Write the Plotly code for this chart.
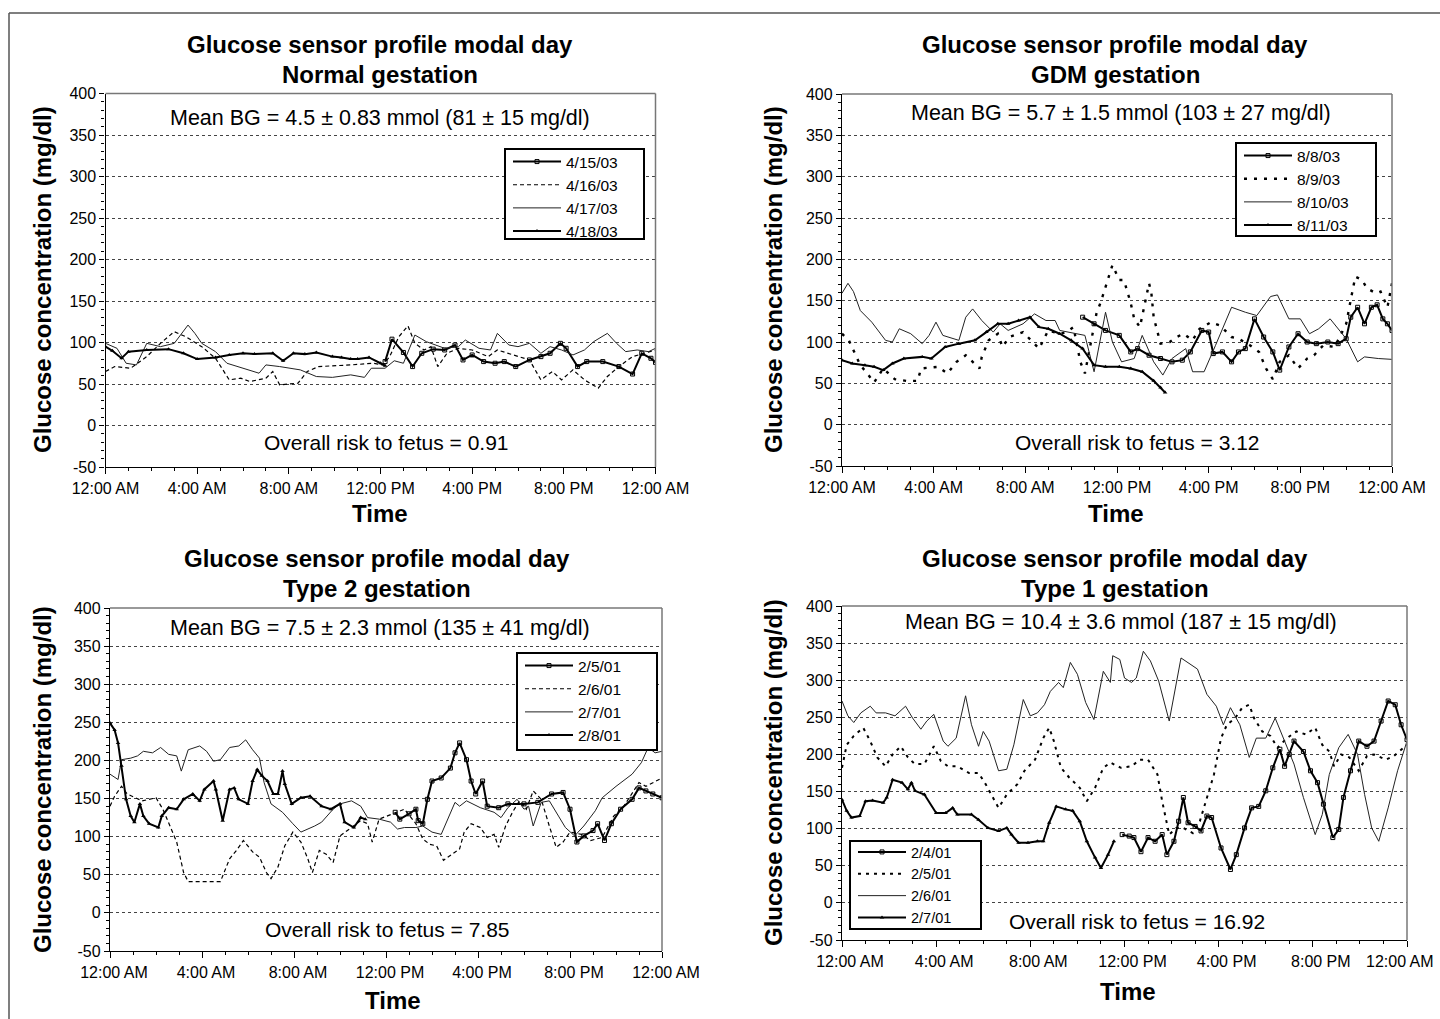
import plotly.graph_objects as go

W, H = 1440, 1019
FONT = "Liberation Sans, Arial, Helvetica, sans-serif"

TICK_HOURS = [0, 4, 8, 12, 16, 20, 24]
TICK_TEXT = ["12:00 AM", "4:00 AM", "8:00 AM", "12:00 PM", "4:00 PM", "8:00 PM", "12:00 AM"]
Y_TICKS = [-50, 0, 50, 100, 150, 200, 250, 300, 350, 400]
Y_TICK_TEXT = ["-50", "0", "50", "100", "150", "200", "250", "300", "350", "400"]

TITLES = ["Normal gestation", "GDM gestation", "Type 2 gestation", "Type 1 gestation"]
MEAN_TEXT = [
    "Mean BG = 4.5 ± 0.83 mmol (81 ± 15 mg/dl)",
    "Mean BG = 5.7 ± 1.5 mmol (103 ± 27 mg/dl)",
    "Mean BG = 7.5 ± 2.3 mmol (135 ± 41 mg/dl)",
    "Mean BG = 10.4 ± 3.6 mmol (187 ± 15 mg/dl)",
]
RISK_TEXT = [
    "Overall risk to fetus = 0.91",
    "Overall risk to fetus = 3.12",
    "Overall risk to fetus = 7.85",
    "Overall risk to fetus = 16.92",
]
DATES = [
    ["4/15/03", "4/16/03", "4/17/03", "4/18/03"],
    ["8/8/03", "8/9/03", "8/10/03", "8/11/03"],
    ["2/5/01", "2/6/01", "2/7/01", "2/8/01"],
    ["2/4/01", "2/5/01", "2/6/01", "2/7/01"],
]

# ---------------- Panel 1: Normal gestation ----------------
n1_t = [12.2, 12.5, 13.0, 13.4, 13.8, 14.3, 14.8, 15.25, 15.6, 16.0, 16.5, 17.0, 17.4, 17.9,
        18.5, 19.0, 19.4, 19.85, 20.1, 20.6, 21.0, 21.7, 22.4, 23.0, 23.4, 23.8, 24.0]
n1_v = [77, 104, 88, 71, 87, 92, 91, 97, 79, 85, 77, 75, 77, 71,
        79, 83, 87, 99, 93, 71, 77, 77, 71, 62, 87, 81, 76]
n2_t = [0, 0.4, 1.1, 1.8, 2.4, 3.0, 3.5, 4.2, 4.8, 5.4, 5.9, 6.3, 7.0, 7.3, 7.6, 8.4, 8.8, 9.3,
        10.7, 11.7, 12.1, 12.4, 12.8, 13.2, 13.5, 13.9, 14.2, 14.5, 14.9, 15.4, 16.0, 16.7, 17.1,
        17.6, 18.5, 19.0, 19.5, 19.9, 20.4, 20.9, 21.5, 21.9, 22.4, 23.0, 23.5, 24.0]
n2_v = [65, 71, 69, 83, 99, 113, 107, 95, 81, 55, 57, 53, 57, 65, 49, 51, 65, 71,
        73, 75, 73, 83, 107, 120, 99, 91, 95, 71, 87, 93, 91, 83, 91,
        87, 79, 55, 65, 55, 67, 55, 45, 59, 71, 83, 87, 91]
n3_t = [0, 0.5, 0.9, 1.35, 1.8, 2.4, 3.0, 3.6, 3.9, 4.2, 4.8, 5.3, 6.0, 6.7, 7.0, 7.6, 8.5, 9.2,
        9.9, 10.7, 11.3, 11.6, 12.2, 12.6, 13.0, 13.5, 14.0, 14.8, 15.4, 15.7, 16.3, 16.8, 17.1,
        17.6, 18.0, 18.5, 19.0, 19.4, 19.9, 20.4, 20.9, 21.3, 21.9, 22.3, 22.7, 23.2, 23.7, 24.0]
n3_v = [99, 93, 75, 73, 99, 95, 99, 121, 111, 99, 89, 75, 69, 63, 73, 71, 67, 59,
        58, 61, 58, 69, 69, 78, 75, 109, 101, 93, 95, 103, 93, 91, 111,
        97, 95, 99, 87, 95, 91, 85, 91, 101, 111, 99, 89, 91, 89, 93]
n4_t = [0, 0.3, 0.7, 1.0, 1.8, 2.75, 3.4, 4.0, 4.8, 5.4, 6.0, 6.5, 7.3, 7.75, 8.2, 8.7, 9.2,
        9.9, 10.3, 10.7, 11.0, 11.5, 12.0, 12.2]
n4_v = [95, 90, 81, 89, 91, 92, 87, 80, 82, 85, 87, 86, 87, 78, 87, 86, 88,
        83, 82, 80, 80, 82, 75, 72]

# ---------------- Panel 2: GDM gestation ----------------
g1_t = [10.5, 11.0, 11.5, 12.1, 12.6, 12.9, 13.4, 13.9, 14.4, 14.85, 15.2, 15.7, 16.0, 16.2, 16.6,
        17.0, 17.3, 17.6, 18.0, 18.4, 18.8, 19.1, 19.5, 19.9, 20.3, 20.7, 21.2, 21.65, 22.0, 22.2,
        22.5, 22.8, 23.1, 23.35, 23.6, 23.8, 24.0]
g1_v = [130, 122, 114, 108, 88, 92, 84, 80, 76, 78, 88, 114, 112, 86, 88,
        76, 88, 92, 128, 106, 88, 66, 94, 110, 100, 98, 100, 98, 104, 130,
        142, 122, 142, 145, 128, 122, 114]
g2_t = [0, 0.3, 0.5, 0.8, 1.1, 1.4, 1.8, 2.3, 2.8, 3.3, 3.45, 4.2, 4.6, 5.0, 5.4, 6.0, 6.1, 6.4,
        6.8, 7.0, 7.3, 7.9, 8.6, 9.0, 9.5, 9.8, 10.1, 10.4, 10.6, 11.1, 11.3, 11.5, 11.8, 12.1,
        12.3, 12.6, 12.75, 13.0, 13.2, 13.4, 13.5, 13.6, 13.9, 14.3, 14.6, 14.9, 15.3, 15.6, 16.1,
        16.5, 17.0, 17.3, 17.8, 18.2, 18.5, 18.8, 19.1, 19.5, 19.9, 20.3, 20.6, 21.0, 21.5, 22.0,
        22.2, 22.4, 22.7, 22.9, 23.3, 23.5, 23.8, 24.0]
g2_v = [110, 102, 90, 72, 62, 51, 68, 55, 53, 53, 68, 70, 62, 76, 84, 68, 82, 102,
        110, 94, 106, 112, 92, 114, 110, 112, 118, 76, 62, 134, 149, 167, 193, 175,
        175, 147, 128, 118, 145, 171, 159, 130, 98, 100, 106, 110, 102, 116, 124,
        120, 106, 104, 96, 88, 68, 55, 76, 84, 68, 80, 84, 96, 94, 122,
        151, 179, 175, 165, 159, 161, 142, 171]
g3_t = [0, 0.26, 0.5, 0.8, 1.3, 1.9, 2.2, 2.5, 3.0, 3.5, 3.8, 4.1, 4.4, 5.1, 5.4, 5.7, 6.1, 6.6,
        6.9, 7.25, 7.9, 8.4, 8.9, 9.3, 9.5, 10.2, 10.6, 11.0, 11.3, 11.5, 11.8, 12.2, 12.75, 13.1,
        13.6, 14.0, 14.4, 15.0, 15.3, 15.8, 16.3, 17.0, 17.6, 18.1, 18.7, 19.0, 19.5, 20.0, 20.4,
        20.8, 21.3, 22.0, 22.5, 22.8, 23.4, 24.0]
g3_v = [159, 171, 161, 138, 124, 102, 100, 116, 110, 98, 108, 124, 108, 102, 130, 140, 126, 112,
        122, 114, 122, 134, 126, 126, 114, 110, 108, 64, 106, 136, 100, 76, 80, 108,
        76, 60, 80, 92, 64, 64, 96, 142, 136, 132, 155, 157, 128, 128, 110,
        116, 128, 104, 76, 82, 80, 79]
g4_t = [0, 0.45, 1.0, 1.4, 1.8, 2.2, 2.7, 3.5, 3.9, 4.5, 5.1, 5.8, 6.3, 6.8, 7.25, 7.7, 8.2, 8.6,
        9.0, 9.5, 10.0, 10.5, 11.0, 11.5, 12.1, 12.6, 13.1, 13.6, 13.9, 14.1]
g4_v = [78, 74, 72, 70, 66, 74, 80, 82, 80, 94, 98, 102, 112, 122, 122, 126, 130, 118,
        116, 110, 102, 92, 72, 70, 70, 68, 64, 53, 45, 39]

# ---------------- Panel 3: Type 2 gestation ----------------
t1_t = [12.4, 12.6, 13.0, 13.3, 13.4, 13.6, 13.8, 14.0, 14.4, 14.8, 15.0, 15.2, 15.5, 15.7, 15.9,
        16.2, 16.4, 16.9, 17.3, 18.0, 18.6, 19.2, 19.7, 20.0, 20.3, 20.6, 21.0, 21.2, 21.5, 21.8,
        22.2, 22.7, 23.0, 23.3, 23.6, 24.0]
t1_v = [132, 123, 130, 136, 121, 117, 149, 173, 177, 190, 210, 223, 201, 173, 156,
        173, 140, 138, 143, 143, 145, 156, 158, 136, 93, 101, 108, 117, 95, 117,
        136, 149, 164, 160, 156, 151]
t2_t = [0, 0.2, 0.5, 0.75, 1.4, 2.0, 2.3, 2.7, 2.9, 3.2, 3.4, 3.9, 4.5, 4.8, 5.2, 5.5, 5.8, 6.2,
        6.5, 6.8, 7.0, 7.3, 7.6, 7.95, 8.3, 8.6, 8.8, 9.1, 9.4, 9.7, 10.0, 10.5, 10.9, 11.2, 11.4,
        11.7, 12.3, 12.8, 13.3, 13.6, 13.9, 14.2, 14.5, 14.8, 15.2, 15.4, 15.7, 16.1, 16.4, 16.7,
        16.9, 17.2, 17.5, 17.8, 18.1, 18.4, 18.75, 19.1, 19.4, 19.7, 20.0, 20.5, 20.9, 21.4, 21.9,
        22.3, 22.7, 23.0, 23.3, 23.6, 24.0]
t2_v = [140, 153, 166, 156, 147, 151, 136, 106, 93, 53, 41, 41, 41, 41, 71, 82, 95, 80,
        73, 53, 45, 60, 88, 106, 93, 71, 53, 82, 77, 66, 101, 112, 121, 117, 93,
        123, 130, 136, 117, 97, 90, 88, 69, 75, 84, 106, 117, 112, 99, 103,
        86, 114, 132, 147, 136, 160, 149, 114, 86, 93, 106, 103, 95, 99, 127,
        138, 156, 171, 166, 171, 177]
t3_t = [0, 0.35, 0.5, 0.9, 1.2, 1.45, 1.85, 2.2, 2.55, 2.9, 3.1, 3.4, 3.9, 4.2, 4.5, 4.8, 5.2, 5.6,
        5.9, 6.2, 6.5, 6.7, 7.0, 7.5, 7.95, 8.3, 8.9, 9.2, 9.7, 10.0, 10.5, 10.9, 11.2, 11.7, 12.2,
        12.5, 12.8, 13.3, 13.6, 14.0, 14.4, 14.7, 15.0, 15.2, 15.5, 16.1, 16.7, 17.0, 17.3, 17.7,
        18.0, 18.2, 18.4, 18.75, 19.1, 19.5, 19.8, 20.2, 20.6, 21.1, 21.4, 22.0, 22.7, 23.1, 23.4,
        23.7, 24.0]
t3_v = [182, 175, 201, 203, 206, 212, 210, 217, 208, 206, 186, 214, 219, 212, 199, 201, 217, 219,
        227, 214, 203, 171, 143, 132, 117, 106, 114, 119, 136, 143, 147, 140, 125, 123, 119,
        110, 112, 112, 114, 106, 103, 123, 145, 140, 147, 138, 132, 125, 138, 149,
        136, 140, 114, 145, 147, 127, 112, 101, 114, 134, 151, 166, 182, 197, 217,
        210, 212]
t4_t = [0, 0.2, 0.35, 0.5, 0.7, 0.9, 1.06, 1.3, 1.45, 1.7, 2.1, 2.25, 2.55, 2.9, 3.2, 3.6, 3.9,
        4.1, 4.5, 4.6, 4.9, 5.2, 5.4, 5.6, 6.0, 6.2, 6.4, 6.6, 6.85, 7.1, 7.3, 7.5, 7.6, 7.9, 8.3,
        8.7, 9.2, 9.6, 10.0, 10.2, 10.6, 10.9, 11.1]
t4_v = [249, 240, 223, 193, 149, 127, 119, 143, 127, 117, 112, 127, 138, 136, 149, 156, 147,
        162, 173, 162, 121, 162, 164, 149, 143, 173, 188, 180, 173, 156, 156, 186, 169, 143, 151,
        153, 140, 136, 143, 119, 112, 125, 123]

# ---------------- Panel 4: Type 1 gestation ----------------
s1_t = [11.9, 12.2, 12.4, 12.7, 13.0, 13.3, 13.6, 13.8, 14.1, 14.3, 14.5, 14.7, 15.0, 15.25, 15.5,
        15.7, 16.1, 16.5, 16.75, 17.1, 17.4, 17.7, 18.0, 18.3, 18.6, 18.8, 19.0, 19.2, 19.6, 19.9,
        20.2, 20.45, 20.85, 21.1, 21.3, 21.6, 21.95, 22.3, 22.6, 22.9, 23.2, 23.5, 23.75, 24.0]
s1_v = [92, 90, 88, 69, 88, 83, 92, 65, 83, 110, 142, 108, 103, 97, 117,
        115, 74, 45, 65, 101, 128, 130, 151, 182, 207, 184, 200, 218, 204, 178,
        162, 133, 88, 99, 142, 178, 218, 211, 218, 245, 272, 267, 240, 220]
s2_t = [0, 0.2, 0.5, 0.9, 1.2, 1.5, 1.85, 2.15, 2.5, 2.8, 3.1, 3.5, 3.9, 4.2, 4.5, 4.9, 5.4, 5.8,
        6.1, 6.65, 7.0, 7.45, 7.75, 8.2, 8.55, 8.8, 9.0, 9.3, 9.65, 10.1, 10.4, 10.75, 11.1, 11.4,
        11.85, 12.3, 12.65, 13.0, 13.4, 13.6, 13.9, 14.2, 14.5, 14.9, 15.2, 15.5, 15.8, 16.1,
        16.35, 16.7, 17.0, 17.3, 17.5, 17.85, 18.2, 18.5, 18.9, 19.3, 19.7, 20.1, 20.4, 20.7,
        20.9, 21.2, 21.55, 21.95, 22.3, 22.6, 23.1, 23.45, 23.8, 24.0]
s2_v = [182, 213, 225, 236, 218, 196, 184, 200, 211, 196, 187, 187, 211, 191, 184, 184, 175, 175,
        160, 128, 146, 160, 178, 193, 222, 236, 218, 182, 169, 155, 137, 155, 182, 189,
        182, 184, 193, 193, 173, 137, 92, 101, 101, 94, 110, 142, 173, 222,
        240, 249, 263, 267, 249, 231, 225, 209, 222, 231, 227, 236, 213, 204,
        184, 200, 196, 178, 198, 200, 193, 198, 207, 213]
s3_t = [0, 0.25, 0.5, 0.8, 1.2, 1.45, 1.85, 2.25, 2.7, 3.0, 3.35, 3.6, 3.9, 4.3, 4.5, 4.85, 5.25,
        5.5, 5.8, 6.0, 6.25, 6.65, 7.0, 7.3, 7.7, 8.0, 8.3, 8.6, 8.85, 9.2, 9.4, 9.7, 10.0, 10.35,
        10.7, 11.1, 11.4, 11.5, 11.8, 12.0, 12.3, 12.5, 12.8, 13.1, 13.45, 13.9, 14.4, 14.7, 15.1,
        15.5, 15.9, 16.2, 16.5, 16.9, 17.3, 17.6, 18.0, 18.4, 18.8, 19.2, 19.6, 20.1, 20.4, 20.7,
        21.1, 21.5, 21.9, 22.2, 22.5, 22.8, 23.2, 23.6, 24.0]
s3_v = [272, 252, 243, 256, 265, 256, 256, 252, 265, 249, 234, 245, 254, 218, 211, 222, 279,
        240, 211, 231, 218, 178, 180, 213, 274, 252, 256, 267, 285, 297, 290, 324, 308, 270,
        247, 312, 297, 333, 328, 303, 297, 303, 339, 326, 299, 245, 330, 324, 315,
        281, 265, 240, 263, 240, 196, 222, 222, 249, 218, 187, 142, 92, 119, 173,
        209, 227, 200, 146, 101, 83, 128, 178, 218]
s4_t = [0, 0.2, 0.4, 0.75, 1.0, 1.3, 1.75, 1.9, 2.15, 2.55, 2.8, 2.95, 3.1, 3.5, 4.0, 4.4, 4.7,
        4.9, 5.5, 5.8, 6.2, 6.65, 7.0, 7.2, 7.5, 7.9, 8.3, 8.55, 8.8, 9.1, 9.5, 9.8, 10.1, 10.4,
        10.75, 11.0, 11.3, 11.55]
s4_v = [139, 124, 115, 117, 137, 138, 135, 142, 166, 162, 153, 162, 151, 146, 121, 121, 128,
        119, 119, 112, 101, 97, 101, 92, 81, 81, 83, 83, 108, 130, 126, 124, 110, 83,
        61, 47, 65, 83]

SERIES = [
    [(n1_t, n1_v), (n2_t, n2_v), (n3_t, n3_v), (n4_t, n4_v)],
    [(g1_t, g1_v), (g2_t, g2_v), (g3_t, g3_v), (g4_t, g4_v)],
    [(t1_t, t1_v), (t2_t, t2_v), (t3_t, t3_v), (t4_t, t4_v)],
    [(s1_t, s1_v), (s2_t, s2_v), (s3_t, s3_v), (s4_t, s4_v)],
]

# ---------------- layout geometry (pixels) ----------------
# left, right, top(400), bottom(-50)
GEOM = [(105.5, 655.5, 93.5, 467), (842, 1392, 94, 466), (110, 662, 608, 951), (842, 1407, 606, 940)]
LABEL_SHIFT = [0, 0, 4, 8]
TITLE_POS = [(380, 44, 74), (1115, 44, 74), (377, 558, 588), (1115, 558, 588)]
MEAN_POS = [(380, 118), (1121, 113), (380, 628), (1121, 622)]
RISK_POS = [(386, 443), (1137, 443), (387, 929), (1137, 921)]
TIME_POS = [(380, 513), (1116, 513), (393, 1000), (1128, 991)]
YTITLE_POS = [(42, 280), (773, 280), (42, 780), (773, 773)]
LEG_BOX = [(505, 149, 644, 239), (1236, 143, 1376, 236), (517, 653, 657, 750), (850, 841, 981, 929)]
LEG_FONT = [15.5, 15.5, 15.5, 14.5]
LEG_TOP_PAD = [4, 4, 4, 5]
DASH = [("4px,3px", 1.2), ("3px,7px", 2.4), ("4px,3px", 1.2), ("3px,5px", 2.0)]


def px(x):
    return x / W


def py(y):
    return 1 - y / H


def text_ann(text, x, y, size, angle=0):
    return dict(text=text, x=px(x), y=py(y), xref="paper", yref="paper", showarrow=False,
                xanchor="center", yanchor="middle", textangle=angle,
                font=dict(size=size, family=FONT, color="black"))


fig = go.Figure()
layout = dict(
    width=W, height=H, margin=dict(l=0, r=0, t=0, b=0, pad=0, autoexpand=False),
    paper_bgcolor="white", plot_bgcolor="white",
    font=dict(family=FONT, color="black"),
    showlegend=True, hovermode=False,
)
annotations = []
shapes = []

for i in range(4):
    k = "" if i == 0 else str(i + 1)
    xa, ya = "x" + k, "y" + k
    leg = "legend" + k
    L, R, T, B = GEOM[i]
    tick_text = list(TICK_TEXT)
    if i == 3:
        # last label of this panel sits slightly inside the right edge
        tick_text[-1] = ""
    layout["xaxis" + k] = dict(
        domain=[px(L), px(R)], anchor=ya, range=[0, 24], automargin=False,
        tickmode="array", tickvals=TICK_HOURS, ticktext=tick_text,
        ticks="outside", ticklen=6, tickwidth=1, tickcolor="black",
        minor=dict(dtick=1, tick0=0, ticks="outside", ticklen=3, tickcolor="black", showgrid=False),
        showline=True, linecolor="black", linewidth=1.3, showgrid=False, zeroline=False,
        tickfont=dict(size=16, family=FONT), ticklabelstandoff=1, ticklabelshift=LABEL_SHIFT[i],
        fixedrange=True,
    )
    layout["yaxis" + k] = dict(
        domain=[py(B), py(T)], anchor=xa, range=[-50, 400], automargin=False,
        tickmode="array", tickvals=Y_TICKS, ticktext=Y_TICK_TEXT,
        ticks="outside", ticklen=5, tickwidth=1, tickcolor="black",
        minor=dict(dtick=10, tick0=0, ticks="outside", ticklen=3, tickcolor="black", showgrid=False),
        showline=True, linecolor="black", linewidth=1.3,
        showgrid=True, gridcolor="#444", griddash="3px,3px", gridwidth=1, zeroline=False,
        tickfont=dict(size=16, family=FONT), fixedrange=True,
    )
    if i == 3:
        annotations.append(dict(text=TICK_TEXT[-1], x=24, y=-50, xref=xa, yref=ya, showarrow=False,
                                xanchor="center", yanchor="top", xshift=-7, yshift=-11,
                                font=dict(size=16, family=FONT, color="black")))
    # gray top and right border
    shapes.append(dict(type="line", xref="paper", yref="paper", x0=px(L), x1=px(R), y0=py(T), y1=py(T),
                       line=dict(color="#777", width=1.5)))
    shapes.append(dict(type="line", xref="paper", yref="paper", x0=px(R), x1=px(R), y0=py(B), y1=py(T),
                       line=dict(color="#777", width=1.5)))
    # legend box
    bx0, by0, bx1, by1 = LEG_BOX[i]
    shapes.append(dict(type="rect", xref="paper", yref="paper",
                       x0=px(bx0), x1=px(bx1), y0=py(by1), y1=py(by0),
                       fillcolor="white", line=dict(color="black", width=2)))
    layout[leg] = dict(
        x=px(bx0 + 3), y=py(by0 - LEG_TOP_PAD[i]), xanchor="left", yanchor="top",
        bgcolor="rgba(0,0,0,0)", borderwidth=0, font=dict(size=LEG_FONT[i], family=FONT),
        itemwidth=48, tracegroupgap=0,
    )

    dash, dw = DASH[i]
    styles = [
        dict(mode="lines+markers", line=dict(color="black", width=2),
             marker=dict(symbol="square-open", size=4, color="black", line=dict(width=1, color="black"))),
        dict(mode="lines", line=dict(color="black", width=dw, dash=dash)),
        dict(mode="lines", line=dict(color="#222", width=1)),
        dict(mode="lines+markers", line=dict(color="black", width=2),
             marker=dict(symbol="triangle-up", size=4, color="black")),
    ]
    for j, (t, v) in enumerate(SERIES[i]):
        fig.add_trace(go.Scatter(x=t, y=v, name=DATES[i][j], xaxis=xa, yaxis=ya, legend=leg,
                                 **styles[j]))

    tx, ty1, ty2 = TITLE_POS[i]
    annotations.append(text_ann("<b>Glucose sensor profile modal day</b>", tx, ty1, 24))
    annotations.append(text_ann("<b>" + TITLES[i] + "</b>", tx, ty2, 24))
    mx, my = MEAN_POS[i]
    annotations.append(text_ann(MEAN_TEXT[i], mx, my, 21.5))
    rx, ry = RISK_POS[i]
    annotations.append(text_ann(RISK_TEXT[i], rx, ry, 21))
    tmx, tmy = TIME_POS[i]
    annotations.append(text_ann("<b>Time</b>", tmx, tmy, 24))
    yx, yy = YTITLE_POS[i]
    annotations.append(text_ann("<b>Glucose concentration (mg/dl)</b>", yx, yy, 24, angle=-90))

# outer frame (top and left edges visible)
shapes.append(dict(type="line", xref="paper", yref="paper", x0=px(9), x1=1, y0=py(13), y1=py(13),
                   line=dict(color="#555", width=1.5)))
shapes.append(dict(type="line", xref="paper", yref="paper", x0=px(9), x1=px(9), y0=0, y1=py(13),
                   line=dict(color="#555", width=1.5)))

layout["annotations"] = annotations
layout["shapes"] = shapes
fig.update_layout(**layout)
fig.write_html("out.html", config={"displayModeBar": False},
               post_script="document.body.style.margin='0px';")
